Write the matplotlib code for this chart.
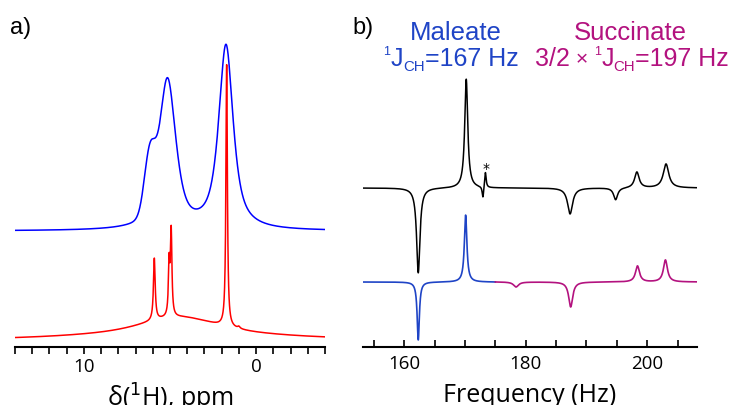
import numpy as np
import matplotlib
matplotlib.use("Agg")
import matplotlib.pyplot as plt

# ---------------- data (peak tables) ----------------
# Panel a: 1H spectra, ppm.  (center, hwhm, amplitude, lorentz fraction)
blue_centers = [1.75, 5.15, 6.18]
blue_hwhm = [0.50, 0.58, 0.37]
blue_amps = [184, 150, 56]
blue_eta = [0.8, 0.65, 0.0]

red_centers = [1.71, 4.93, 5.05, 5.91, 1.00, 4.5, 4.5]
red_hwhm = [0.05, 0.05, 0.05, 0.06, 0.08, 5.0, 2.0]
red_amps = [262, 84, 52, 62, 2, 16, 8]
red_eta = [1.0, 1.0, 1.0, 1.0, 1.0, 1.0, 0.0]

# Panel b: frequency domain, Hz
exp_centers = [162.3, 170.2, 172.95, 173.35, 187.3, 194.8, 198.3, 203.1]
exp_hwhm = [0.33, 0.30, 0.15, 0.15, 0.50, 0.40, 0.45, 0.55]
exp_amps = [-85, 109, -12, 16, -26, -12, 16, 24]

mal_centers = [162.3, 170.1]
mal_hwhm = [0.22, 0.25]
mal_amps = [-58, 67]

suc_centers = [178.4, 187.4, 198.4, 203.0]
suc_hwhm = [0.5, 0.4, 0.4, 0.4]
suc_amps = [-5, -25, 16, 22]

ppm_ticks_major = [10, 0]
hz_ticks_major = [160, 180, 200]


def pvoigt(x, c, w, a, eta):
    lor = 1.0 / (1.0 + ((x - c) / w) ** 2)
    gau = np.exp(-np.log(2) * ((x - c) / w) ** 2)
    return a * (eta * lor + (1 - eta) * gau)


def spectrum(x, cs, ws, As, etas=None):
    if etas is None:
        etas = [1.0] * len(cs)
    y = np.zeros_like(x)
    for c, w, a, e in zip(cs, ws, As, etas):
        y += pvoigt(x, c, w, a, e)
    return y


W, H = 734, 405
fig = plt.figure(figsize=(W / 100, H / 100), dpi=100)
renderer = fig.canvas.get_renderer()

tick_font = "Open Sans"
ann_font = "Liberation Sans"


def text_runs(xc, ybase, runs, size, color):
    """runs: list of (string, relative size, baseline shift in px). Centered at xc."""
    objs = []
    for s, rel, dy in runs:
        t = fig.text(0, 0, s, fontsize=size * rel, color=color, fontfamily=ann_font,
                     va="baseline", ha="left")
        objs.append((t, dy))
    widths = [t.get_window_extent(renderer).width for t, _ in objs]
    x = xc - sum(widths) / 2
    for (t, dy), w in zip(objs, widths):
        t.set_position((x / W, 1 - (ybase - dy) / H))
        x += w


# ---------------- panel a ----------------
axa = fig.add_axes([15 / W, 58 / H, 310 / W, 320 / H])
ppm = np.linspace(-4.2, 14.2, 6000)
blue = spectrum(ppm, blue_centers, blue_hwhm, blue_amps, blue_eta)
red = spectrum(ppm, red_centers, red_hwhm, red_amps, red_eta)
axa.plot(ppm, blue + 116, color="#0000ff", lw=1.1)
axa.plot(ppm, red + 6, color="#ff0000", lw=1.1)
axa.set_xlim(14, -4)
axa.set_ylim(0, 320)
for s in ["top", "left", "right"]:
    axa.spines[s].set_visible(False)
axa.spines["bottom"].set_linewidth(1.5)
axa.set_yticks([])
axa.set_xticks(ppm_ticks_major)
axa.set_xticks(np.arange(-4, 15, 1), minor=True)
axa.tick_params(axis="x", which="both", direction="out", length=5, width=1.2,
                labelsize=13.5, pad=3)
for lab in axa.get_xticklabels():
    lab.set_fontfamily(tick_font)
axa.set_xlabel("δ($^1$H), ppm", fontsize=18, fontfamily=tick_font, labelpad=4)
fig.text(10 / W, 1 - 28 / H, "a)", fontsize=17, fontfamily=ann_font, va="center")

# ---------------- panel b ----------------
axb = fig.add_axes([363 / W, 58 / H, 334 / W, 320 / H])
hz = np.linspace(153, 208.5, 6000)
expt = spectrum(hz, exp_centers, exp_hwhm, exp_amps)
sim = spectrum(hz, mal_centers, mal_hwhm, mal_amps) + spectrum(hz, suc_centers, suc_hwhm, suc_amps)
axb.plot(hz, expt + 159, color="black", lw=1.1)
m = hz <= 175
axb.plot(hz[m], sim[m] + 65, color="#1f44c6", lw=1.2)
axb.plot(hz[~m], sim[~m] + 65, color="#b3127f", lw=1.2)
axb.text(173.4, 178, "*", ha="center", va="center", fontsize=10)
axb.set_xlim(153.2, 208.2)
axb.set_ylim(0, 320)
for s in ["top", "left", "right"]:
    axb.spines[s].set_visible(False)
axb.spines["bottom"].set_linewidth(1.5)
axb.set_yticks([])
axb.set_xticks(hz_ticks_major)
axb.set_xticks(np.arange(155, 206, 5), minor=True)
axb.tick_params(axis="x", which="both", direction="in", length=5, width=1.2,
                labelsize=13.5, pad=6)
for lab in axb.get_xticklabels():
    lab.set_fontfamily(tick_font)
axb.set_xlabel("Frequency (Hz)", fontsize=18, fontfamily=tick_font, labelpad=7)

fig.text(352 / W, 1 - 28 / H, "b)", fontsize=17, fontfamily=ann_font, va="center")

blue_c = "#1f44c6"
purp_c = "#b3127f"
text_runs(456, 40, [("Maleate", 1.0, 0)], 18.5, blue_c)
text_runs(451, 66, [("1", 0.5, 11), ("J", 1.0, 0), ("CH", 0.6, -5), ("=167 Hz", 1.0, 0)],
          18, blue_c)
text_runs(630, 40, [("Succinate", 1.0, 0)], 18.5, purp_c)
text_runs(632, 66, [("3/2", 1.0, 0), (" × ", 0.85, 1), ("1", 0.5, 11), ("J", 1.0, 0),
                    ("CH", 0.6, -5), ("=197 Hz", 1.0, 0)], 18, purp_c)

fig.savefig("out.png", dpi=100)
